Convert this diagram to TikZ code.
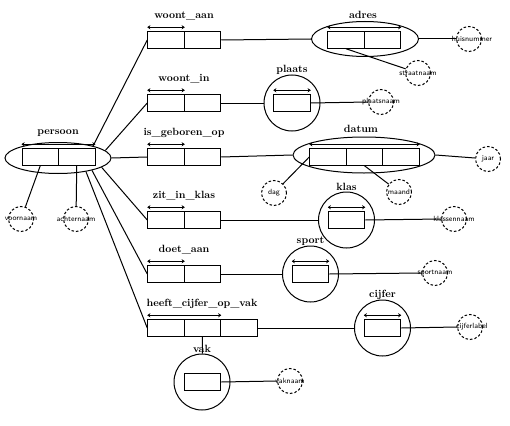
\documentclass[tikz,border=0pt]{standalone}
\usetikzlibrary{shapes.geometric,arrows.meta}

\tikzset{
  cell/.style={draw, minimum width=36.5pt, minimum height=16.5pt, inner sep=0pt},
  ent/.style={draw, circle, minimum size=56pt, inner sep=0pt},
  oval/.style={draw, ellipse, inner sep=0pt},
  attr/.style={draw, circle, dash pattern=on 2.5pt off 2pt, minimum size=25pt, inner sep=0pt},
  ttl/.style={font=\fontsize{10.5}{12}\selectfont\bfseries, inner sep=1pt},
  atxt/.style={font=\fontsize{7.5}{8}\selectfont\sffamily, inner sep=0pt},
  keyspan/.style={{Stealth[length=3pt,width=4pt]}-{Stealth[length=3pt,width=4pt]}}
}

\begin{document}
\begin{tikzpicture}[x=1pt, y=-1pt, line width=1pt]
    \useasboundingbox (0,0) rectangle (510,425);

    % Draw the entity persoon
    \node[oval, minimum width=106pt, minimum height=31pt] (ps) at (58,158) {};
    \node[cell] (p1) at (40.25,157) {};
    \node[cell] (p2) at (76.75,157) {};
    \node[ttl] (tps) at (58,133) {persoon};
    \draw[keyspan] ([yshift=4pt]p1.north west) -- ([yshift=4pt]p2.north east);

    % Draw the relationship boxes with two cells
    \foreach \n/\y/\t in {wa/40/woont\_aan, wi/103/woont\_in, ig/157/is\_geboren\_op, zk/220/zit\_in\_klas, da/274/doet\_aan} {
        \node[cell] (\n1) at (166,\y) {};
        \node[cell] (\n2) at (202.5,\y) {};
        \node[ttl] (t\n) at (184,\y-24) {\t};
        \draw[keyspan] ([yshift=4pt]\n1.north west) -- ([yshift=4pt]\n1.north east);
    }

    % Draw the relationship box with three cells
    \node[cell] (hc1) at (166,328) {};
    \node[cell] (hc2) at (202.5,328) {};
    \node[cell] (hc3) at (239,328) {};
    \node[ttl] (thc) at (202,304) {heeft\_cijfer\_op\_vak};
    \draw[keyspan] ([yshift=4pt]hc1.north west) -- ([yshift=4pt]hc2.north east);

    % Draw the entity adres
    \node[oval, minimum width=107pt, minimum height=35pt] (ad) at (365,39) {};
    \node[cell] (a1) at (346,40) {};
    \node[cell] (a2) at (382.5,40) {};
    \node[ttl] (tad) at (363,15) {adres};
    \draw[keyspan] ([yshift=4pt]a1.north west) -- ([yshift=4pt]a2.north east);

    % Draw the entity datum
    \node[oval, minimum width=142pt, minimum height=36pt] (dt) at (364,155) {};
    \node[cell] (d1) at (328,157) {};
    \node[cell] (d2) at (364.5,157) {};
    \node[cell] (d3) at (401,157) {};
    \node[ttl] (tdt) at (361,129) {datum};
    \draw[keyspan] ([yshift=4pt]d1.north west) -- ([yshift=4pt]d3.north east);

    % Draw the entities with one cell
    \foreach \n/\x/\y/\t in {pl/292/103/plaats, kl/346.5/220/klas, sp/310.5/274/sport, cf/382.5/328/cijfer} {
        \node[ent] (\n) at (\x,\y) {};
        \node[cell] (\n1) at (\x,\y) {};
        \node[ttl] (t\n) at (\x,\y-33) {\t};
        \draw[keyspan] ([yshift=4pt]\n1.north west) -- ([yshift=4pt]\n1.north east);
    }
    \node[ent] (vk) at (202,382) {};
    \node[cell] (vk1) at (202.5,382) {};
    \node[ttl] (tvk) at (202,349) {vak};

    % Draw the attributes
    \node[attr, label={[atxt]center:voornaam}] (vn) at (21,219) {};
    \node[attr, label={[atxt]center:achternaam}] (an) at (76,219) {};
    \node[attr, label={[atxt,xshift=3pt]center:huisnummer}] (hn) at (469,39) {};
    \node[attr, label={[atxt]center:straatnaam}] (sn) at (418,73) {};
    \node[attr, label={[atxt]center:plaatsnaam}] (pn) at (381,102) {};
    \node[attr, label={[atxt]center:jaar}] (jr) at (488,159) {};
    \node[attr, label={[atxt]center:dag}] (dg) at (274,193) {};
    \node[attr, label={[atxt]center:maand}] (mn) at (399,192) {};
    \node[attr, label={[atxt]center:klassennaam}] (kn) at (454,219) {};
    \node[attr, label={[atxt]center:sportnaam}] (spn) at (435,273) {};
    \node[attr, label={[atxt,xshift=2pt]center:cijferlabel}] (cl) at (470,327) {};
    \node[attr, label={[atxt]center:vaknaam}] (vkn) at (290,381) {};

    % Connect persoon to the relationships
    \draw (ps.19) -- (wa1.west);
    \draw (ps.9) -- (wi1.west);
    \draw (ps.east) -- (ig1.west);
    \draw (ps.-12) -- (zk1.west);
    \draw (ps.-20) -- (da1.west);
    \draw (ps.-26) -- (hc1.west);

    % Connect the relationships to the entities
    \draw (wa2.east) -- (ad.west);
    \draw (wi2.east) -- (pl);
    \draw (ig2.east) -- (dt.west);
    \draw (zk2.east) -- (kl);
    \draw (da2.east) -- (sp);
    \draw (hc3.east) -- (cf);
    \draw (hc2.south) -- (vk);

    % Connect the entities to their attributes
    \draw (p1.south) -- (vn);
    \draw (p2.south) -- (an);
    \draw (ad.east) -- (hn.west);
    \draw (a1.south) -- (sn);
    \draw (pl1.east) -- (pn.west);
    \draw (dt.east) -- (jr);
    \draw (dg) -- (d1.west);
    \draw (d2.south) -- (mn);
    \draw (kl1.east) -- (kn.west);
    \draw (sp1.east) -- (spn.west);
    \draw (cf1.east) -- (cl.west);
    \draw (vk1.east) -- (vkn.west);

\end{tikzpicture}
\end{document}
